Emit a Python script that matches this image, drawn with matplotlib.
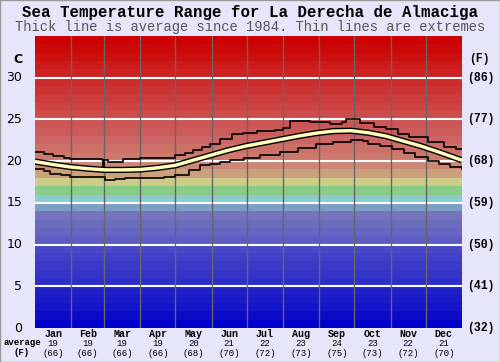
import matplotlib.pyplot as plt
from matplotlib.patches import Rectangle

# --- data ---
months = ["Jan", "Feb", "Mar", "Apr", "May", "Jun",
          "Jul", "Aug", "Sep", "Oct", "Nov", "Dec"]
month_avg_c = [19, 19, 19, 19, 20, 21, 22, 23, 24, 23, 22, 21]
month_avg_f = [66, 66, 66, 66, 68, 70, 72, 73, 75, 73, 72, 70]
month_len = [31, 28, 31, 30, 31, 30, 31, 31, 30, 31, 30, 31]

avg_days = [0, 15, 30, 45, 60, 75, 90, 105, 120, 135, 150, 165, 180,
            195, 210, 225, 240, 255, 270, 285, 300, 315, 330, 345, 365]
avg_temp = [19.95, 19.6, 19.3, 19.1, 18.95, 18.95, 19.0, 19.2, 19.5, 20.1,
            20.7, 21.3, 21.8, 22.2, 22.6, 23.0, 23.35, 23.6, 23.65, 23.4,
            23.0, 22.4, 21.8, 21.1, 20.1]

max_days = [0, 8, 15, 25, 30, 45, 57, 58, 59, 62, 75, 90, 110, 120, 128,
            135, 143, 150, 158, 168, 178, 190, 205, 212, 218, 235, 252, 262,
            266, 272, 278, 290, 300, 310, 320, 336, 350, 360, 365]
max_temp = [21.1, 20.8, 20.6, 20.4, 20.2, 20.2, 20.1, 19.2, 20.1, 19.95,
            20.3, 20.4, 20.4, 20.7, 21.0, 21.3, 21.7, 22.1, 22.6, 23.2, 23.4,
            23.6, 23.7, 24.0, 24.8, 24.7, 24.5, 24.7, 25.0, 25.0, 24.6, 24.1,
            23.8, 23.3, 22.9, 22.3, 21.7, 21.4, 21.4]

min_days = [0, 8, 13, 22, 30, 45, 58, 60, 68, 77, 95, 110, 120, 132, 141,
            150, 158, 167, 179, 192, 209, 225, 240, 255, 270, 280, 285, 295,
            305, 315, 325, 336, 345, 355, 365]
min_temp = [19.0, 18.8, 18.5, 18.3, 18.1, 18.1, 18.1, 17.7, 17.9, 18.0,
            18.0, 18.1, 18.3, 18.9, 19.5, 19.7, 19.9, 20.1, 20.4, 20.7, 21.1,
            21.6, 22.0, 22.3, 22.5, 22.4, 22.1, 21.8, 21.45, 21.0, 20.5,
            20.05, 19.6, 19.3, 19.1]

c_ticks = [0, 5, 10, 15, 20, 25, 30]
f_labels = ["(32)", "(41)", "(50)", "(59)", "(68)", "(77)", "(86)"]

# one colour per 1 degree band, 0..35 C
band_colors = ["#0000cc", "#0c0cc8", "#1414c8", "#1a1ac8", "#2020c8",
               "#2e2ec8", "#3434c8", "#3a3ac8", "#4040c8", "#4848c8",
               "#5c5cc4", "#6666c0", "#6c6cbc", "#7474bc", "#7a9ec4",
               "#88cccc", "#88cc88", "#cccc88", "#cca07a", "#cc8877",
               "#cc7a6e", "#cc7068", "#cc6666", "#cc5c5c", "#cc5555",
               "#cc4c4c", "#cc4444", "#cc3c3c", "#cc3434", "#cc2c2c",
               "#cc2222", "#cc1a1a", "#cc1010", "#cc0808", "#cc0000"]

bg = "#e6e6fa"
mono = "Liberation Mono"

fig = plt.figure(figsize=(5, 3.62), dpi=100, facecolor=bg)
ax = fig.add_axes([0.07, 0.0939, 0.854, 0.8067])

for i, col in enumerate(band_colors):
    ax.axhspan(i, i + 1, color=col, lw=0, zorder=0)

for t in c_ticks[1:]:
    ax.axhline(t, color="white", lw=1.5, zorder=1)

edges = [0]
for n in month_len:
    edges.append(edges[-1] + n)
for e in edges[1:-1]:
    ax.axvline(e, color="#666666", lw=1, zorder=1)

ax.plot(max_days, max_temp, color="black", lw=1.2, drawstyle="steps-post", zorder=3)
ax.plot(min_days, min_temp, color="black", lw=1.2, drawstyle="steps-post", zorder=3)
ax.plot(avg_days, avg_temp, color="black", lw=4.5, zorder=4, solid_capstyle="butt")
ax.plot(avg_days, avg_temp, color="#ffffbb", lw=2.5, zorder=5, solid_capstyle="butt")

ax.set_xlim(0, 365)
ax.set_ylim(0, 35)
ax.set_xticks([])
ax.set_yticks([])
for s in ax.spines.values():
    s.set_visible(False)

# left / right axis labels
for t, fl in zip(c_ticks, f_labels):
    ax.text(-11, t, str(t), ha="right", va="center", fontsize=9,
            family="DejaVu Sans", clip_on=False)
    ax.text(369, t, fl, ha="left", va="center", fontsize=8.3,
            family=mono, weight="bold", clip_on=False)
ax.text(-15, 32.2, "C", ha="center", va="center", fontsize=9,
        family="DejaVu Sans", weight="bold", clip_on=False)
ax.text(380, 32.2, "(F)", ha="center", va="center", fontsize=8.3,
        family=mono, weight="bold", clip_on=False)

# month labels below
trans = ax.get_xaxis_transform()
for i, m in enumerate(months):
    mid = (edges[i] + edges[i + 1]) / 2
    ax.text(mid, -0.021, m, transform=trans, ha="center", va="center",
            fontsize=7.2, family=mono, weight="bold")
    ax.text(mid, -0.052, str(month_avg_c[i]), transform=trans, ha="center",
            va="center", fontsize=6.5, family=mono)
    ax.text(mid, -0.086, "(%d)" % month_avg_f[i], transform=trans,
            ha="center", va="center", fontsize=6.5, family=mono)
fig.text(0.044, 0.0525, "average", ha="center", va="center", fontsize=6.5,
         family=mono, weight="bold")
fig.text(0.044, 0.025, "(F)", ha="center", va="center", fontsize=6.5,
         family=mono, weight="bold")

fig.text(0.5, 0.965, "Sea Temperature Range for La Derecha de Almaciga",
         ha="center", va="center", fontsize=11.3, family=mono, weight="bold")
fig.text(0.5, 0.925, "Thick line is average since 1984. Thin lines are extremes",
         ha="center", va="center", fontsize=9.9, family=mono, color="#555555")

fig.patches.append(Rectangle((0, 0), 1, 1, transform=fig.transFigure,
                             fill=False, ec="#999999", lw=1))

fig.savefig("out.png", dpi=100, facecolor=bg)
